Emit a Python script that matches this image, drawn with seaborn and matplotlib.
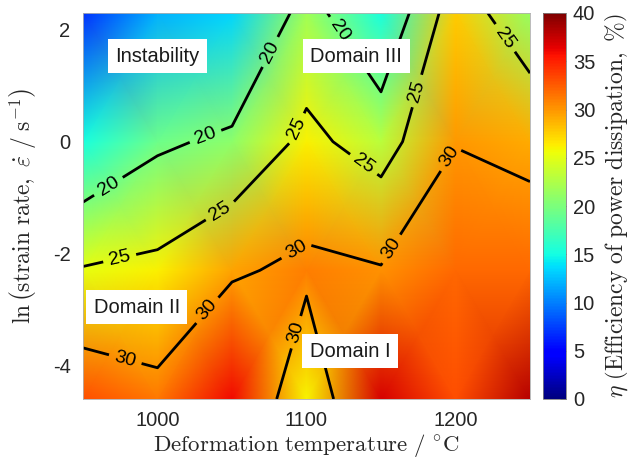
import numpy as np
import matplotlib
matplotlib.use("Agg")
import matplotlib.pyplot as plt
import seaborn as sns

# ---------------- data ----------------
temperatures = [950, 1000, 1050, 1100, 1150, 1200, 1250]          # deg C
strain_rates = [0.01, 0.1, 1.0, 10.0]                               # s^-1
# efficiency of power dissipation (%), rows follow strain_rates, cols temperatures
eta_rate_001 = [33.1, 31.25, 36.0, 26.0, 37.0, 33.0, 38.0]
eta_rate_01 = [25.3, 26.1, 29.4, 31.0, 30.3, 32.0, 32.0]
eta_rate_1 = [15.3, 19.25, 20.9, 26.1, 23.0, 29.9, 29.1]
eta_rate_10 = [7.0, 12.0, 13.4, 21.85, 15.25, 27.75, 21.4]
contour_levels = [20, 25, 30]
colorbar_ticks = [0, 5, 10, 15, 20, 25, 30, 35, 40]
x_ticks = [1000, 1100, 1200]
y_ticks = [-4, -2, 0, 2]
domain_names = ["Instability", "Domain III", "Domain II", "Domain I"]

# ---------------- style ----------------
sns.set_style("white")
plt.rcParams["font.family"] = ["Liberation Sans", "DejaVu Sans"]
plt.rcParams["mathtext.fontset"] = "cm"
plt.rcParams["axes.unicode_minus"] = False

ln_rates = np.log(strain_rates)
Z = np.array([eta_rate_001, eta_rate_01, eta_rate_1, eta_rate_10])
X, Y = np.meshgrid(temperatures, ln_rates)

W, H = 638, 462
fig = plt.figure(figsize=(W / 100, H / 100), dpi=100)
ax = fig.add_axes([83 / W, 1 - 399 / H, 447 / W, 386 / H])
cax = fig.add_axes([543 / W, 1 - 399 / H, 23 / W, 386 / H])

cmap = matplotlib.colormaps["jet"]
pcm = ax.pcolormesh(X, Y, Z, shading="gouraud", cmap=cmap, vmin=0, vmax=40)
cs = ax.contour(X, Y, Z, levels=contour_levels, colors="black", linewidths=2.0)

label_spots = [
    (968, -0.84), (1032, 0.11), (1076, 1.6), (1123, 2.0),
    (975, -2.13), (1042, -1.24), (1094, 0.23), (1138.5, -0.4), (1175, 0.9), (1233, 1.85),
    (978, -3.93), (1034, -3.03), (1094, -1.98), (1093, -3.41), (1157, -1.92), (1195, -0.25),
]
ax.clabel(cs, manual=label_spots, inline=True, inline_spacing=6, fontsize=14, fmt="%d",
          colors="black")

ax.set_xlim(950, 1250)
ax.set_ylim(np.log(0.01), np.log(10))
ax.set_xticks(x_ticks)
ax.set_yticks(y_ticks)
ax.tick_params(axis="both", length=0, labelsize=14.5, labelcolor="#262626", pad=9)
for s in ax.spines.values():
    s.set_color("#b0b0b0")
    s.set_linewidth(0.6)

ax.set_xlabel(r"$\mathrm{Deformation\ temperature\ /\ ^{\circ}C}$", fontsize=16.5, labelpad=1)
ax.set_ylabel(r"$\ln\left(\mathrm{strain\ rate,\ }\dot{\varepsilon}\ /\ \mathrm{s}^{-1}\right)$",
              fontsize=17, labelpad=10)

domain_xy = [(1000, 1.53), (1133.5, 1.53), (986, -2.96), (1129.5, -3.75)]
for name, (tx, ty) in zip(domain_names, domain_xy):
    ax.text(tx, ty, name, ha="center", va="center", fontsize=14.5, color="#1a1a1a",
            bbox=dict(facecolor="white", edgecolor="none", pad=5.5))

cb = fig.colorbar(pcm, cax=cax, ticks=colorbar_ticks)
cb.outline.set_edgecolor("#808080")
cb.outline.set_linewidth(0.6)
cax.tick_params(direction="in", length=4, width=0.6, color="#555555",
                labelsize=14.5, labelcolor="#262626", pad=5)
cb.set_label(r"$\eta\ \left(\mathrm{Efficiency\ of\ power\ dissipation,\ \%}\right)$",
             fontsize=17, labelpad=6)

fig.savefig("out.png", dpi=100)
